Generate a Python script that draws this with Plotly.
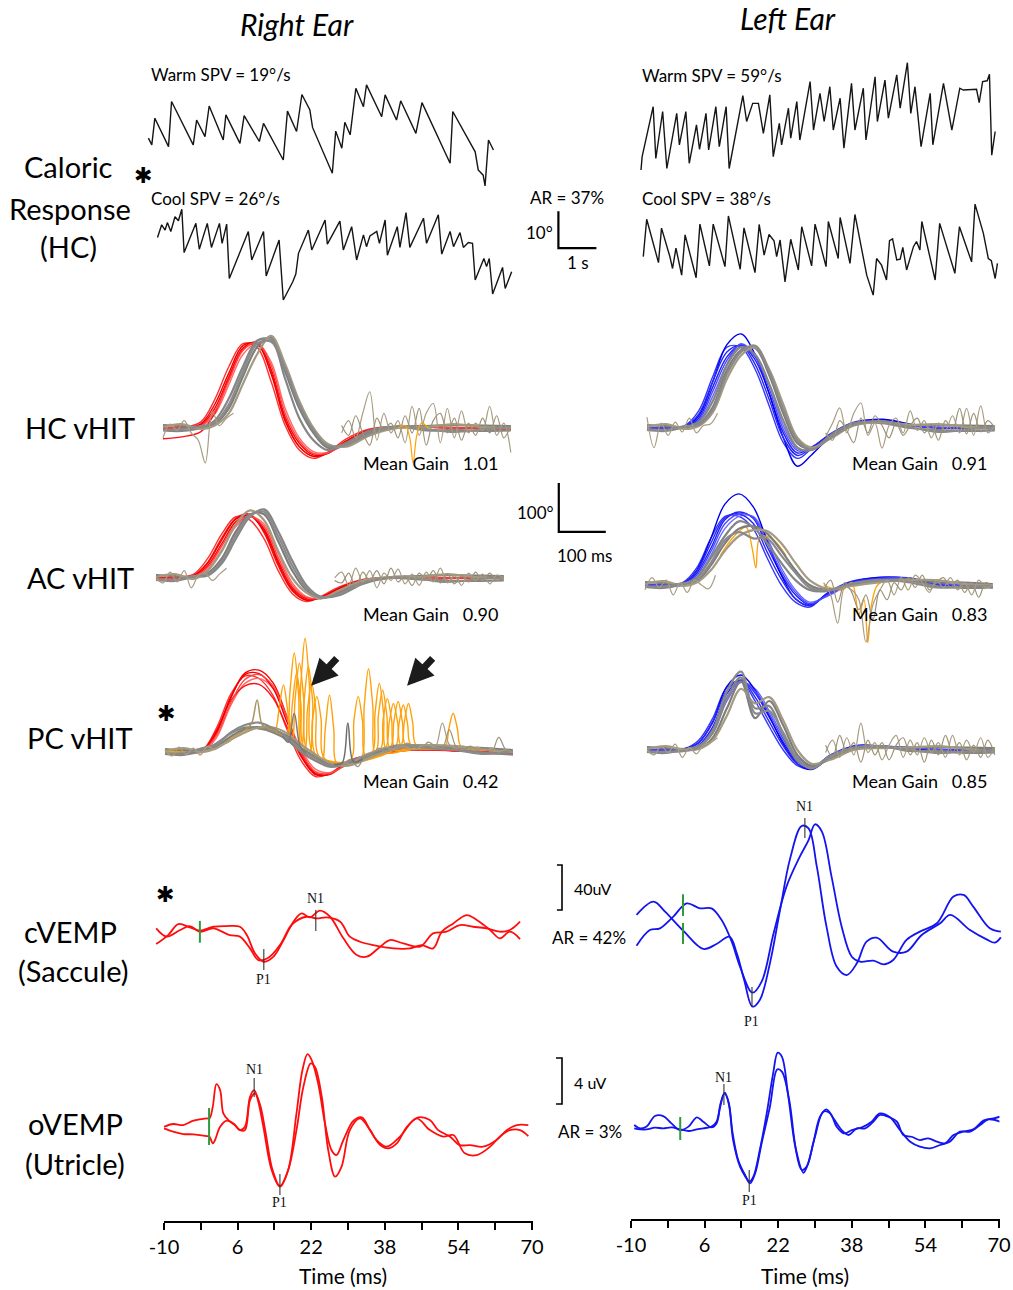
import plotly.graph_objects as go

W, H = 1013, 1290
FONT = "Lato"
SERIF = "Liberation Serif"

# ---------------- Caloric responses: time (s) and eye position (deg) ----------------
cal_rw_t = [0.01,0.10,0.18,0.54,0.62,1.19,1.28,1.50,1.61,1.98,2.05,2.42,2.53,2.93,3.04,3.56,3.67,3.91,4.05,4.26,
            4.33,4.85,4.94,5.10,5.18,5.32,5.47,5.67,5.75,6.15,6.24,6.54,6.65,7.05,7.21,7.95,8.02,8.61,8.69,8.82,
            8.87,8.96,9.09]
cal_rw_v = [3.2,1.4,8.6,0.9,13.1,1.4,8.1,3.6,11.9,2.7,9.5,1.8,9.3,2.3,7.2,-2.7,10.5,5.0,15.0,10.8,
            6.1,-6.3,5.1,0.5,7.5,4.1,16.7,11.7,17.6,9.0,14.9,8.1,13.3,4.5,12.8,-3.6,10.4,-0.5,-5.4,-6.8,
            -9.7,2.7,0.0]
cal_rc_t = [0.25,0.36,0.45,0.51,0.60,0.71,0.80,0.89,0.95,1.26,1.35,1.56,1.67,1.88,1.95,2.07,2.14,2.64,2.73,3.04,
            3.11,3.45,3.56,3.72,3.81,3.89,3.96,4.22,4.31,4.66,4.72,5.05,5.14,5.36,5.49,5.67,5.75,5.84,6.02,6.09,
            6.24,6.30,6.56,6.63,6.79,6.89,7.25,7.33,7.64,7.73,7.95,8.04,8.21,8.30,8.43,8.54,8.61,8.84,8.91,8.98,
            9.07,9.33,9.40,9.57]
cal_rc_v = [3.4,6.8,5.4,7.4,5.0,9.0,7.9,11.0,-0.7,7.2,0.2,7.2,0.7,7.2,1.8,7.0,-7.7,5.0,-2.7,5.0,
            -7.0,2.7,-13.5,-10.6,-8.6,-6.5,-0.9,5.4,0.0,8.1,1.6,7.8,0.0,6.3,-2.7,4.1,0.9,3.8,5.0,1.8,
            8.1,-1.4,6.3,0.7,10.1,0.7,8.6,1.8,9.5,-1.1,5.0,0.9,4.7,0.7,2.0,1.8,-8.1,-2.3,-4.5,-2.3,
            -11.9,-4.7,-10.4,-5.9]
cal_lw_t = [0.00,0.03,0.32,0.39,0.57,0.68,0.94,1.01,1.18,1.27,1.46,1.54,1.71,1.78,1.97,2.06,2.24,2.32,2.68,2.78,
            2.94,3.09,3.22,3.39,3.48,3.64,3.70,3.88,3.94,4.10,4.18,4.45,4.54,4.71,4.82,4.97,5.06,5.24,5.34,5.54,
            5.63,5.85,5.92,6.16,6.22,6.42,6.51,6.73,6.82,7.01,7.10,7.21,7.37,7.61,7.68,7.96,8.18,8.39,8.48,8.83,
            8.90,8.99,9.11,9.17,9.23,9.32]
cal_lw_v = [-5.4,-1.8,11.7,-2.3,10.4,-5.0,9.9,1.4,10.4,-3.6,6.8,0.2,9.9,0.0,11.7,0.9,11.7,-5.0,14.7,7.7,
            12.6,12.6,4.5,14.9,-1.8,7.2,1.4,11.3,3.2,13.1,2.7,18.5,5.4,15.3,7.7,17.1,5.4,14.0,0.5,18.0,
            5.4,16.7,2.7,19.8,7.7,18.9,8.6,20.3,11.3,23.6,9.9,17.1,0.9,15.3,1.4,18.0,5.4,16.7,16.2,16.4,
            12.8,18.5,18.7,20.5,-1.4,5.0]
cal_lc_t = [0.06,0.15,0.46,0.54,0.76,0.83,0.92,1.07,1.16,1.45,1.55,1.80,1.90,2.21,2.30,2.61,2.71,3.00,3.11,3.24,
            3.37,3.50,3.57,3.66,3.79,3.94,4.14,4.23,4.49,4.58,4.87,4.93,5.19,5.24,5.50,5.63,5.94,6.11,6.20,6.33,
            6.46,6.54,6.62,6.73,6.82,6.89,6.99,7.17,7.25,7.34,7.39,7.74,7.86,8.26,8.38,8.70,8.79,9.01,9.14,9.22,
            9.32,9.38]
cal_lc_v = [-1.8,8.3,-3.4,5.9,-1.8,-5.0,0.5,-6.8,4.1,-7.5,7.0,-4.3,7.0,-4.5,9.2,-5.2,6.0,-6.1,6.9,-1.4,
            4.2,2.5,-1.8,2.7,-8.6,2.9,-5.4,6.3,-4.3,7.0,-4.5,7.7,-2.3,8.8,-3.6,9.6,-6.8,-12.2,-2.3,-4.1,
            -8.1,2.5,3.0,-2.7,-2.5,0.7,-5.4,0.9,2.3,0.0,7.7,-8.1,7.2,-6.3,6.3,-3.2,12.4,4.5,-2.3,-2.9,
            -7.7,-3.6]
cal_bar_t = [10.8, 10.8, 11.8]     # 10 deg / 1 s scale bar
cal_bar_v = [10.5, 0.5, 0.5]

# ---------------- vHIT: time (ms) and velocity (deg/s) ----------------
VHIT_T = [0,40,80,110,140,170,200,230,260,290,320,350,390,440,500,560,620,680,740]
NOISE_T = [380,395,410,425,440,455,470,485,500,515,530,545,560,575,590,605,620,635,650,665,680,695,710,725,740]
EARLY_T = [0,15,30,45,60,75,90,105,120,135,150]

rhc_head = [[0,0,6,40,104,163,175,120,22,-31,-55,-52,-29,-4,2,2,0,0,-2],
            [0,1,12,58,125,172,165,95,5,-45,-62,-50,-22,-2,3,2,1,0,0],
            [-3,-2,3,28,88,150,172,135,40,-20,-48,-50,-32,-8,0,2,0,-1,-3],
            [-22,-18,-8,30,100,160,172,115,15,-38,-58,-52,-26,-4,1,2,0,0,-3],
            [0,0,8,48,112,168,172,110,15,-38,-58,-51,-27,-4,2,2,0,0,-1],
            [0,0,4,34,96,158,174,128,30,-26,-52,-51,-30,-6,1,2,0,0,-2]]
rhc_eye = [[6,4,2,8,40,105,165,185,115,40,-10,-40,-35,-10,2,4,6,5,4],
           [-5,-6,0,15,60,125,178,180,100,20,-25,-45,-30,-5,3,-5,-4,-6,-5],
           [2,8,-2,5,30,90,150,188,130,55,0,-32,-38,-15,0,2,8,2,0],
           [-4,-2,4,10,48,115,172,176,122,48,-5,-36,-34,-12,4,-2,-8,-3,2]]
rhc_noise = [[-10,15,-20,30,74,-25,30,-10,15,-30,44,-15,30,50,-30,40,-20,35,-10,10,-5,44,-15,10,-50],
             [5,-15,25,-10,-35,20,-5,10,-20,25,-10,40,-35,15,30,-10,20,-25,10,-15,20,-10,25,-20,5]]
rhc_early = [-20,8,-5,15,-10,-25,-71,33,5,20,30]
rhc_sacc_t = [500,515,525,532,540,550,565]
rhc_sacc_v = [0,5,-20,-71,-15,10,0]

rac_head = [[0,0,3,25,70,115,128,100,35,-20,-42,-40,-22,-5,0,2,0,0,0],
            [0,2,8,40,90,125,118,80,15,-32,-48,-38,-18,-3,2,2,0,0,0],
            [-2,0,2,18,58,105,125,110,50,-10,-38,-42,-28,-8,0,0,0,0,-2],
            [0,0,5,32,82,122,130,92,25,-26,-45,-40,-20,-4,1,2,0,0,0],
            [0,1,5,30,78,120,127,96,30,-24,-45,-40,-21,-4,1,2,0,0,0],
            [-1,0,3,22,65,110,126,105,42,-15,-40,-41,-25,-6,0,1,0,0,-1]]
rac_eye = [[6,4,2,10,40,95,130,130,75,15,-25,-40,-30,-8,2,4,6,5,4],
           [-4,-6,2,5,30,80,125,140,95,35,-15,-38,-35,-12,0,-3,-5,-6,-5],
           [2,8,-2,15,55,110,138,118,55,0,-30,-42,-25,-5,2,2,8,2,0],
           [-2,-4,4,8,35,88,128,135,85,25,-20,-40,-32,-10,1,-2,-8,-3,2]]
rac_noise = [[0,12,-15,20,-8,15,-20,10,-5,18,-12,8,-15,12,-8,20,-10,5,-15,10,-5,8,-12,6,0],
             [-5,-10,10,-18,12,-5,15,-12,20,-8,5,-15,10,-5,15,-10,8,-12,5,-8,12,-6,10,-5,2]]
rac_early = [0,-10,12,-8,15,-20,5,10,-5,8,20]
vhit_bar_t = [857, 857, 957]       # 100 deg/s / 100 ms scale bar
vhit_bar_v = [194, 94, 94]

rpc_head = [[0,0,2,39,110,161,167,141,71,-2,-43,-45,-22,-8,3,5,3,0,-5],
            [0,1,5,50,118,155,150,115,45,-18,-50,-44,-18,-5,4,5,2,0,-3],
            [-2,0,0,30,95,140,150,130,68,5,-35,-42,-25,-10,2,5,3,0,-5],
            [0,0,4,45,105,135,138,110,50,-10,-45,-46,-20,-6,3,4,2,0,-4],
            [0,0,3,42,112,158,160,130,60,-8,-46,-45,-20,-7,3,5,3,0,-4],
            [-1,0,2,35,100,148,158,135,70,0,-40,-44,-24,-9,2,5,3,0,-5]]
rpc_eye = [[6,4,5,12,32,47,51,45,33,8,-10,-25,-22,-4,12,14,10,8,4],
           [-4,-6,3,18,38,50,48,40,25,0,-18,-30,-25,-8,8,10,6,-2,-5],
           [2,8,0,8,25,40,50,50,38,15,-5,-22,-28,-10,10,14,12,5,0],
           [-3,-2,8,15,40,55,60,48,30,5,-12,-28,-20,-2,14,8,4,-4,2]]
rpc_noise = [[-20,-25,-15,-5,0,5,10,5,15,10,5,12,15,10,59,15,8,12,5,10,3,8,0,5,-2],
             [-25,-15,-30,-10,-5,8,0,12,8,18,10,5,20,12,8,45,10,5,12,3,8,0,30,5,0]]
rpc_early = [5,-8,10,-5,8,-6,12,5,15,20,35]
rpc_sacc_t = [[0,100,180,240,257,266,275,284,293,320,380,415,424,433,442,451,500,600,740],
              [0,100,180,250,280,289,298,307,316,360,445,454,463,472,481,540,650,740],
              [0,100,180,250,268,277,286,295,304,350,420,468,477,486,495,504,560,650,740],
              [0,100,180,225,234,243,252,261,270,320,393,402,411,420,429,480,600,740],
              [0,100,180,250,287,296,305,314,323,380,438,447,456,465,474,540,650,740],
              [0,100,180,250,294,303,312,321,330,400,478,487,496,505,514,580,740],
              [0,100,180,250,305,314,323,332,341,420,489,498,507,516,525,600,740],
              [0,100,180,250,300,332,341,350,359,368,440,500,509,518,527,536,620,740],
              [0,100,180,250,262,271,280,289,298,360,455,464,473,482,491,560,595,604,613,622,631,700,740]]
rpc_sacc_v = [[0,8,48,40,30,125,202,120,5,-10,-22,-18,95,170,95,-8,12,10,0],
              [0,8,48,35,10,140,232,140,-5,-25,-5,75,126,75,5,12,6,0],
              [0,8,48,35,20,110,181,110,0,-25,-15,5,60,99,60,10,12,6,0],
              [0,8,48,45,44,90,137,85,28,-10,-18,65,113,65,-12,5,10,0],
              [0,8,48,35,5,105,174,105,-10,-22,-5,80,140,80,0,12,6,0],
              [0,8,48,35,0,85,140,85,-12,-22,6,62,103,62,10,10,0],
              [0,8,48,35,-5,68,113,68,-15,-15,8,58,96,58,12,10,0],
              [0,8,48,35,0,-20,48,116,48,-25,-5,10,60,99,60,12,8,0],
              [0,8,48,35,20,98,161,98,5,-25,0,66,109,66,5,12,10,48,79,48,10,4,0]]
rpc_hump_t = [[150,175,185,196,207,220,240], [250,262,275,288,300], [360,377,389,401,420]]
rpc_hump_v = [[35,48,60,106,55,48,42], [33,20,79,10,-2], [-25,-22,59,-20,-15]]
arrow_t = [311, 515]
arrow_v = [135, 135]

lhc_head = [[0,0,2,20,84,145,170,139,71,-10,-51,-39,-14,10,15,5,0,0,0],
            [0,0,5,35,105,165,165,120,45,-30,-62,-42,-12,12,16,6,0,0,0],
            [0,0,0,12,65,130,172,150,90,5,-42,-45,-20,8,14,5,2,0,-2],
            [0,0,3,25,95,170,192,150,70,-20,-78,-55,-18,10,18,8,0,0,0],
            [0,0,3,28,95,155,168,130,58,-20,-56,-40,-13,11,15,5,0,0,0],
            [0,0,1,16,75,138,171,145,80,-3,-46,-42,-17,9,14,5,1,0,-1]]
lhc_eye = [[6,4,2,8,43,118,159,163,108,30,-31,-42,-18,8,12,7,6,5,4],
           [-4,-6,2,12,55,128,165,150,90,15,-40,-45,-15,10,10,0,-4,-6,-5],
           [2,8,-2,4,32,100,148,165,120,48,-20,-40,-22,5,12,6,8,2,0],
           [-2,-4,4,6,38,110,155,168,115,38,-25,-44,-20,6,14,2,-8,-3,2]]
lhc_noise = [[-18,10,41,-10,30,51,-15,10,-41,5,20,-10,35,-5,15,-20,10,-5,25,-10,40,-15,45,-10,5],
             [-10,-25,15,-5,-30,20,-10,25,5,-20,10,-15,5,20,-10,8,-25,15,-5,40,-12,30,-8,15,0]]
lhc_early = [22,-40,10,-15,12,-8,20,-10,5,8,30]

lac_head = [[0,0,0,24,75,133,149,136,78,22,-20,-40,-18,5,14,14,2,-2,-5],
            [0,0,5,35,95,140,140,115,55,0,-35,-45,-15,8,15,12,0,-2,-3],
            [0,0,0,15,60,115,140,140,95,35,-10,-35,-22,2,12,15,4,0,-5],
            [0,0,3,30,95,165,186,160,90,20,-28,-42,-16,6,16,14,2,-2,-4],
            [0,0,2,28,85,137,145,126,67,12,-28,-42,-17,6,14,13,1,-2,-4],
            [0,0,1,20,68,125,145,138,86,28,-15,-38,-20,4,13,14,3,-1,-5]]
lac_eye = [[6,4,2,8,40,85,115,120,105,70,30,0,-10,0,8,12,6,5,2],
           [-4,-6,2,15,55,100,130,118,85,45,10,-10,-12,2,10,10,-2,-6,-5],
           [2,8,-2,5,30,70,100,112,110,85,45,10,-8,-2,6,10,10,2,0],
           [-3,-3,3,10,45,92,108,95,95,60,25,-5,-10,3,10,6,-5,-3,-2]]
lac_noise = [[5,-20,-78,-5,-10,-30,-116,-40,-10,10,-20,15,-10,20,5,-15,10,-5,15,-10,5,-20,10,-5,0],
             [-10,10,-35,5,-15,-50,-20,-70,-10,-30,5,-10,15,-5,20,-10,5,15,-5,10,-15,5,-25,5,-5]]
lac_early = [-10,15,-5,10,-20,5,-15,10,0,-8,20]
lac_sacc_t = [380,420,440,455,466,474,482,495,520,560]
lac_sacc_v = [0,-10,5,-60,-30,-118,-40,0,10,5]
lac_sacc2_t = [160,190,215,228,236,245,270,300]
lac_sacc2_v = [60,100,118,75,35,98,95,60]

lpc_head = [[0,0,0,10,47,115,143,116,67,16,-24,-35,-13,8,8,4,0,0,-2],
            [0,0,3,20,65,128,140,100,48,0,-32,-38,-10,8,6,3,0,0,0],
            [0,0,0,5,35,100,138,125,80,28,-15,-32,-16,6,8,5,2,0,-3],
            [0,0,2,15,58,130,153,122,70,12,-28,-40,-14,8,8,4,0,0,-2],
            [0,0,2,15,56,122,142,108,58,8,-28,-37,-12,8,7,4,0,0,-1],
            [0,0,0,8,42,108,140,120,74,22,-20,-34,-15,7,8,5,1,0,-2]]
lpc_eye = [[6,4,2,3,25,85,140,65,100,50,-10,-32,-18,2,5,5,6,5,4],
           [-4,-6,2,8,35,105,148,85,90,30,-22,-35,-12,5,8,-2,-2,-6,-5],
           [2,8,0,2,20,70,125,95,108,60,0,-28,-20,0,4,5,8,2,-2],
           [-2,-4,-2,6,40,120,160,75,80,35,-18,-38,-15,4,6,0,-6,-3,0]]
lpc_noise = [[-5,20,-15,25,-10,55,-5,15,-20,10,30,-15,20,-10,25,-5,15,-15,30,-10,20,-5,25,-15,5],
             [10,-15,30,-5,15,-25,20,-10,15,-20,10,25,-10,15,-25,20,-10,30,-5,15,-20,10,-15,20,-10]]
lpc_early = [0,-10,8,-5,12,-15,5,-8,10,15,25]

gains_right = ["1.01", "0.90", "0.42"]
gains_left = ["0.91", "0.83", "0.85"]

# ---------------- VEMPs: time (ms) and amplitude (uV) ----------------
rc_t1 = [-11.7,-9.4,-6.5,-4.4,-2.2,0.7,4.3,6.5,8.7,10.5,12.7,15.2,17.4,19.9,21.7,23.9,26.1,29.0,31.9,34.1,
         37.0,39.1,42.0,45.7,48.5,51.4,54.3,57.2,60.1,63.0,65.2,67.4]
rc_v1 = [-0.3,-7.7,-1.8,1.7,-3.3,-0.3,-6.3,-7.7,-18.1,-28.5,-26.4,-15.2,1.1,13.0,9.4,15.4,10.0,-9.2,-24.0,-25.5,
         -16.6,-10.7,-13.7,-16.6,-4.8,-3.3,2.6,1.1,-0.3,-3.3,-1.8,5.6]
rc_t2 = [-11.7,-9.1,-6.9,-4.4,-2.2,0.7,3.6,6.5,8.0,9.8,11.7,13.8,16.0,18.1,21.0,23.2,25.4,28.3,30.4,32.6,
         35.5,39.9,43.5,46.0,48.5,50.4,52.9,55.8,58.0,60.9,63.0,65.2,67.4]
rc_v2 = [-14.3,-6.3,3.5,0.6,-2.4,1.1,1.7,1.1,-6.3,-22.6,-30.0,-25.5,-10.7,4.1,10.0,8.5,9.4,5.6,-7.7,-12.2,
         -15.2,-18.1,-18.1,-15.2,-18.1,-3.3,4.1,11.5,7.1,-1.8,-9.2,-3.3,-9.8]
lc_t1 = [-8.8,-5.1,-2.6,1.4,5.7,8.6,11.4,13.0,14.6,16.4,18.0,20.2,22.4,24.6,27.1,28.6,30.4,32.5,34.7,36.9,
         39.1,41.2,43.4,47.0,49.9,53.2,57.2,59.4,63.7,67.3,69.1,70.4]
lc_v1 = [10.7,22.5,13.6,-3.5,-19.5,-15.1,-8.6,-23.4,-47.1,-70.8,-64.9,-32.3,15.1,61.0,89.8,87.7,53.6,0.3,-35.2,-42.7,
         -32.3,-13.0,-9.5,-21.9,-21.9,-7.1,3.3,10.7,-2.7,-11.0,-13.9,-9.2]
lc_t2 = [-8.8,-5.9,-3.7,-0.8,2.1,5.0,7.5,9.7,11.9,13.7,16.4,18.4,21.0,23.8,26.7,28.6,30.0,31.5,33.6,35.8,
         38.0,39.8,42.7,44.9,47.0,49.9,52.8,56.5,60.1,62.3,64.4,68.0,70.4]
lc_v2 = [-16.6,-2.7,-1.2,9.2,21.0,16.6,16.6,6.2,-13.0,-35.2,-58.4,-48.6,-5.6,35.9,62.5,77.3,91.3,84.8,44.8,0.3,
         -26.4,-30.8,-29.9,-33.2,-29.3,-11.5,-4.1,3.3,27.0,28.5,18.1,-1.2,-4.1]
ro_t1 = [-10.0,-8.0,-5.8,-3.6,-0.7,-0.1,0.6,1.4,2.2,2.9,4.0,5.4,6.5,7.6,8.7,9.6,10.5,11.6,13.4,15.2,
         17.0,18.8,20.1,21.2,22.1,23.5,25.0,26.4,27.5,29.0,31.2,33.0,34.8,37.0,38.8,40.6,42.8,45.3,47.8,49.6,
         52.2,54.3,56.5,59.4,62.3,64.5,66.7,69.2]
ro_v1 = [0.02,0.26,0.17,0.55,0.75,0.75,1.76,3.73,3.21,1.18,0.60,0.17,-0.27,0.02,2.63,3.21,2.20,0.02,-3.74,-5.19,
         -3.74,1.18,4.95,6.34,5.82,3.79,0.31,-2.0,-2.44,-1.13,0.55,0.84,-0.27,-1.57,-1.86,-1.43,0.02,0.84,0.60,-0.27,
         -0.84,-1.57,-1.57,-1.71,-1.13,-0.27,0.17,0.17]
ro_t2 = [-10.0,-8.0,-5.8,-3.6,-0.7,-0.1,0.6,1.1,2.2,3.6,5.1,6.5,7.6,8.7,9.8,10.9,12.0,13.6,15.2,17.0,
         18.8,20.3,21.9,22.8,24.3,25.7,27.2,28.6,30.4,32.6,34.8,36.2,38.4,41.3,44.9,47.8,50.7,52.9,55.4,58.0,
         60.9,63.0,65.2,67.4,69.2]
ro_v2 = [-0.12,-0.41,-0.61,-0.64,-0.79,-0.84,-1.43,-1.13,0.02,0.55,0.31,-0.27,-0.27,2.34,2.92,1.91,-0.27,-3.74,-5.13,-3.74,
         -0.27,3.50,5.53,5.24,2.63,-2.0,-4.32,-3.45,-0.27,0.75,-0.27,-1.13,-1.71,-0.84,0.75,-0.27,-0.84,-0.70,-2.29,-2.44,
         -1.71,-0.84,-0.27,-0.27,-0.79]
lo_t1 = [-9.3,-8.0,-6.6,-4.8,-3.0,-1.2,0.7,2.5,4.3,5.7,7.5,8.6,9.4,10.3,11.2,12.1,13.3,14.8,15.7,16.6,
         18.0,19.5,20.9,21.9,22.8,24.2,25.7,27.1,28.2,29.6,31.1,32.5,34.0,35.8,37.3,39.1,40.9,42.7,44.1,45.9,
         47.8,49.2,51.0,52.8,54.6,56.5,58.3,60.1,62.2,64.4,66.6,68.8,70.2]
lo_v1 = [0.26,-0.03,0.12,1.04,1.04,0.40,-0.18,0.12,0.93,0.55,0.06,0.40,1.85,3.01,2.29,-0.47,-2.78,-4.09,-4.67,-4.23,
         -1.91,1.27,4.75,6.55,6.20,2.72,-1.62,-3.65,-3.36,-1.33,0.98,1.62,0.84,-0.18,-0.61,-0.03,-0.03,0.55,1.13,0.98,
         0.55,-0.61,-0.76,-1.05,-0.90,-1.19,-1.33,-0.61,-0.32,-0.12,0.64,0.84,0.98]
lo_t2 = [-9.3,-8.0,-6.6,-4.8,-3.0,-1.2,0.7,2.5,4.3,5.7,7.5,8.6,9.5,10.4,11.3,12.2,13.7,15.1,15.9,17.0,
         18.4,20.2,21.8,22.8,24.4,25.9,27.5,28.5,30.0,31.8,33.3,34.7,36.3,38.0,40.2,42.3,44.1,46.3,48.5,50.7,
         52.8,55.0,57.2,59.3,61.5,63.7,65.9,67.7,70.2]
lo_v2 = [-0.03,-0.12,-0.12,0.03,-0.03,0.06,-0.12,-0.26,-0.12,-0.03,0.12,0.55,2.20,3.07,2.00,-1.05,-3.36,-4.38,-4.81,-3.94,
         -1.33,1.85,5.10,4.90,2.43,-1.91,-3.89,-3.07,-0.76,1.42,1.27,0.12,-0.47,-0.18,0.06,0.55,1.27,0.93,-0.18,-1.19,
         -1.62,-1.77,-1.48,-1.19,-0.32,-0.32,0.26,0.75,0.55]

# stimulus markers (green), peak markers and scale brackets
rc_stim = ([-2.2, -2.2], [6.3, -13.1])
lc_stim = [([1.3, 1.3], [29.1, 9.8]), ([1.3, 1.3], [3.6, -15.1])]
ro_stim = ([-0.2, -0.2], [1.65, -1.57])
lo_stim = ([0.7, 0.7], [0.96, -1.04])
rc_peaks = [("P1", 11.7, -18.7, -37.3, -46.0), ("N1", 23.0, 16.0, -2.7, 25.8)]
lc_peaks = [("N1", 27.8, 96.9, 79.1, 106.7), ("P1", 16.3, -53.3, -71.1, -83.6)]
ro_peaks = [("N1", 9.6, 4.26, 2.61, 4.96), ("P1", 15.2, -4.09, -5.91, -6.6)]
lo_peaks = [("N1", 10.2, 3.83, 2.0, 4.43), ("P1", 15.7, -3.65, -5.57, -6.3)]
c_bracket_t = [-26.1, -25.0, -25.0, -26.1]
c_bracket_v = [55.1, 55.1, 15.1, 15.1]
o_bracket_t = [-26.3, -25.0, -25.0, -26.3]
o_bracket_v = [6.09, 6.09, 2.09, 2.09]

vemp_tickvals = [-10,-2,6,14,22,30,38,46,54,62,70]
vemp_ticktext = ["-10","","6","","22","","38","","54","","70"]

# ---------------- figure construction ----------------
fig = go.Figure()
layout = dict(width=W, height=H, autosize=False, margin=dict(l=0, r=0, t=0, b=0, pad=0, autoexpand=False),
              paper_bgcolor="white", plot_bgcolor="rgba(0,0,0,0)", showlegend=False,
              annotations=[])


def names(i):
    if i == 1:
        return "x", "y", "xaxis", "yaxis"
    return f"x{i}", f"y{i}", f"xaxis{i}", f"yaxis{i}"


def add_axis(i, box, origin, scale, xticks=None):
    x0, x1, y0, y1 = box
    ox, oy = origin
    sx, sy = scale
    xn, yn, xk, yk = names(i)
    xa = dict(domain=[x0 / W, x1 / W], range=[(x0 - ox) / sx, (x1 - ox) / sx],
              anchor=yn, visible=False, fixedrange=True)
    ya = dict(domain=[1 - y1 / H, 1 - y0 / H], range=[(oy - y1) / sy, (oy - y0) / sy],
              anchor=xn, visible=False, fixedrange=True)
    if xticks is not None:
        xa.update(visible=True, showline=True, linecolor="black", linewidth=1.5,
                  ticks="outside", ticklen=7, tickwidth=1.5, tickcolor="black",
                  tickmode="array", tickvals=xticks[0], ticktext=xticks[1],
                  tickfont=dict(family=FONT, size=20, color="black"),
                  showgrid=False, zeroline=False, automargin=False)
    layout[xk] = xa
    layout[yk] = ya


def line(i, x, y, color, width=1.2, shape="linear", opacity=1.0):
    xn, yn, _, _ = names(i)
    fig.add_trace(go.Scatter(x=x, y=y, xaxis=xn, yaxis=yn, mode="lines",
                             line=dict(color=color, width=width, shape=shape),
                             opacity=opacity, hoverinfo="skip"))


def text(px, py, s, size, anchor="center", family=FONT, color="black"):
    layout["annotations"].append(dict(x=px / W, y=1 - py / H, xref="paper", yref="paper", text=s,
                                      showarrow=False, xanchor=anchor, yanchor="middle",
                                      font=dict(family=family, size=size, color=color)))


def dtext(i, x, y, s, size=14):
    xn, yn, _, _ = names(i)
    layout["annotations"].append(dict(x=x, y=y, xref=xn, yref=yn, text=s, showarrow=False,
                                      xanchor="center", yanchor="middle",
                                      font=dict(family=SERIF, size=size, color="#111")))


# axes: caloric (s, deg)
CAL = (38.0, 3.7)
add_axis(1, (140, 505, 60, 195), (148, 150), CAL)
add_axis(2, (140, 615, 195, 305), (148, 250), CAL)
add_axis(3, (630, 1005, 55, 188), (641, 150), CAL)
add_axis(4, (630, 1005, 190, 305), (641, 250), CAL)
# axes: vHIT (ms, deg/s)
VH = (0.47, 0.49)
add_axis(5, (150, 520, 315, 480), (163, 428), VH)
add_axis(6, (150, 615, 470, 630), (156, 578), VH)
add_axis(7, (150, 520, 620, 800), (165, 752), VH)
add_axis(8, (635, 1005, 315, 480), (647, 428), VH)
add_axis(9, (635, 1005, 470, 660), (645, 585), VH)
add_axis(10, (635, 1005, 640, 800), (647, 750), VH)
# axes: VEMP (ms, uV)
add_axis(11, (150, 540, 880, 1000), (210, 928), (4.6, 1.125))
add_axis(12, (545, 1005, 800, 1030), (677, 927), (4.6, 1.125))
add_axis(13, (163.5, 532.5, 1040, 1221), (210, 1127), (4.6, 11.5), (vemp_tickvals, vemp_ticktext))
add_axis(14, (630.5, 999.5, 1040, 1219), (677, 1128), (4.6, 11.5), (vemp_tickvals, vemp_ticktext))
add_axis(15, (545, 1005, 1040, 1219), (677, 1128), (4.6, 11.5))

# caloric traces
CAL_C = "#151515"
line(1, cal_rw_t, cal_rw_v, CAL_C, 1.4)
line(2, cal_rc_t, cal_rc_v, CAL_C, 1.4)
line(3, cal_lw_t, cal_lw_v, CAL_C, 1.4)
line(4, cal_lc_t, cal_lc_v, CAL_C, 1.4)
line(2, cal_bar_t, cal_bar_v, "black", 2.2)

# vHIT traces
HEAD_R = ["#ff0000", "#ff3030", "#ff6a6a", "#ff1010", "#ee0000", "#ff4545"]
HEAD_B = ["#1f1fff", "#3535ff", "#6a6aff", "#0000ee", "#2828f5", "#4a4aff"]
EYE_C = ["#7d7d7d", "#858585", "#a39a82", "#8a8a8a"]
NOISE_C = ["#a89d82", "#9c9277"]
ORANGE = "#ffa10a"


def heads_and_eyes(i, heads, eyes, head_colors, extra=None):
    for k, v in enumerate(heads):
        line(i, VHIT_T, v, head_colors[k % len(head_colors)], 1.4, "spline")
    if extra:
        extra()
    for k, v in enumerate(eyes):
        line(i, VHIT_T, v, EYE_C[k % len(EYE_C)], 2.2, "spline")


def noise_lines(i, noise, early):
    for k, v in enumerate(noise):
        line(i, NOISE_T, v, NOISE_C[k % 2], 1.2, "spline")
    line(i, EARLY_T, early, NOISE_C[0], 1.2, "spline")


heads_and_eyes(5, rhc_head, rhc_eye, HEAD_R)
noise_lines(5, rhc_noise, rhc_early)
line(5, rhc_sacc_t, rhc_sacc_v, ORANGE, 1.2, "spline")

heads_and_eyes(6, rac_head, rac_eye, HEAD_R)
noise_lines(6, rac_noise, rac_early)
line(6, vhit_bar_t, vhit_bar_v, "black", 2.2)


def rpc_saccades():
    for t, v in zip(rpc_sacc_t, rpc_sacc_v):
        line(7, t, v, ORANGE, 1.4, "spline")


heads_and_eyes(7, rpc_head, rpc_eye, HEAD_R, rpc_saccades)
noise_lines(7, rpc_noise, rpc_early)
for t, v, c in zip(rpc_hump_t, rpc_hump_v, ["#a8955f", "#7a7a7a", "#6e6e6e"]):
    line(7, t, v, c, 1.5, "spline")

heads_and_eyes(8, lhc_head, lhc_eye, HEAD_B)
noise_lines(8, lhc_noise, lhc_early)


def lac_saccades():
    line(9, lac_sacc_t, lac_sacc_v, ORANGE, 1.3, "spline")
    line(9, lac_sacc2_t, lac_sacc2_v, ORANGE, 1.3, "spline")


heads_and_eyes(9, lac_head, lac_eye, HEAD_B, lac_saccades)
noise_lines(9, lac_noise, lac_early)
heads_and_eyes(10, lpc_head, lpc_eye, HEAD_B)
noise_lines(10, lpc_noise, lpc_early)

# arrows in right PC panel
for t, v in zip(arrow_t, arrow_v):
    layout["annotations"].append(dict(x=t, y=v, xref="x7", yref="y7", ax=27, ay=-29, text="",
                                      showarrow=True, arrowhead=2, arrowsize=0.75, arrowwidth=7,
                                      arrowcolor="#1c1c1c", standoff=0))

# VEMP traces
RED, BLUE, GREEN = "#ff0d0d", "#1414f0", "#2e9a3a"
line(11, rc_t1, rc_v1, RED, 1.8, "spline")
line(11, rc_t2, rc_v2, RED, 1.8, "spline")
line(12, lc_t1, lc_v1, BLUE, 1.8, "spline")
line(12, lc_t2, lc_v2, BLUE, 1.8, "spline")
line(13, ro_t1, ro_v1, RED, 1.8, "spline")
line(13, ro_t2, ro_v2, RED, 1.8, "spline")
line(14, lo_t1, lo_v1, BLUE, 1.8, "spline")
line(14, lo_t2, lo_v2, BLUE, 1.8, "spline")
line(11, rc_stim[0], rc_stim[1], GREEN, 2)
for seg in lc_stim:
    line(12, seg[0], seg[1], GREEN, 2)
line(13, ro_stim[0], ro_stim[1], GREEN, 2)
line(14, lo_stim[0], lo_stim[1], GREEN, 2)
for i, peaks in ((11, rc_peaks), (12, lc_peaks), (13, ro_peaks), (14, lo_peaks)):
    for lab, t, va, vb, vl in peaks:
        line(i, [t, t], [va, vb], "#333333", 1.1)
        dtext(i, t, vl, lab)
line(12, c_bracket_t, c_bracket_v, "black", 1.6)
line(15, o_bracket_t, o_bracket_v, "black", 1.6)

# ---------------- texts ----------------
text(297, 24, "<i>Right Ear</i>", 30)
text(788, 18, "<i>Left Ear</i>", 30)
text(68, 167, "Caloric", 29)
text(70, 209, "Response", 29)
text(68, 247, "(HC)", 29)
text(80, 427, "HC vHIT", 29)
text(80, 578, "AC vHIT", 29)
text(80, 737, "PC vHIT", 29)
text(70, 931, "cVEMP", 29)
text(73, 970, "(Saccule)", 29)
text(75, 1123, "oVEMP", 29)
text(75, 1163, "(Utricle)", 29)
for px, py in ((143, 175), (166, 713), (165, 894)):
    text(px, py, "\u2731", 22, family="DejaVu Sans")

text(149, 75, "Warm SPV = 19°/s", 17, "left")
text(149, 199, "Cool SPV = 26°/s", 17, "left")
text(640, 76, "Warm SPV = 59°/s", 17, "left")
text(640, 199, "Cool SPV = 38°/s", 17, "left")
text(567, 198, "AR = 37%", 17)
text(555, 232, "10°", 17, "right")
text(578, 263, "1 s", 17)
text(556, 512, "100°", 17, "right")
text(584, 555, "100 ms", 17)

for py, g in zip((463, 614, 781), gains_right):
    text(500, py, "Mean Gain\u00a0\u00a0 " + g, 18, "right")
for py, g in zip((463, 614, 781), gains_left):
    text(989, py, "Mean Gain\u00a0\u00a0 " + g, 18, "right")

text(572, 888, "40uV", 16, "left")
text(550, 937, "AR = 42%", 17, "left")
text(572, 1082, "4 uV", 16, "left")
text(556, 1131, "AR = 3%", 17, "left")
text(343, 1275, "Time (ms)", 21)
text(805, 1275, "Time (ms)", 21)

fig.update_layout(**layout)
fig.write_html("out.html", config={"responsive": False, "displayModeBar": False},
               post_script="document.body.style.margin='0px';document.body.style.overflow='hidden';")
